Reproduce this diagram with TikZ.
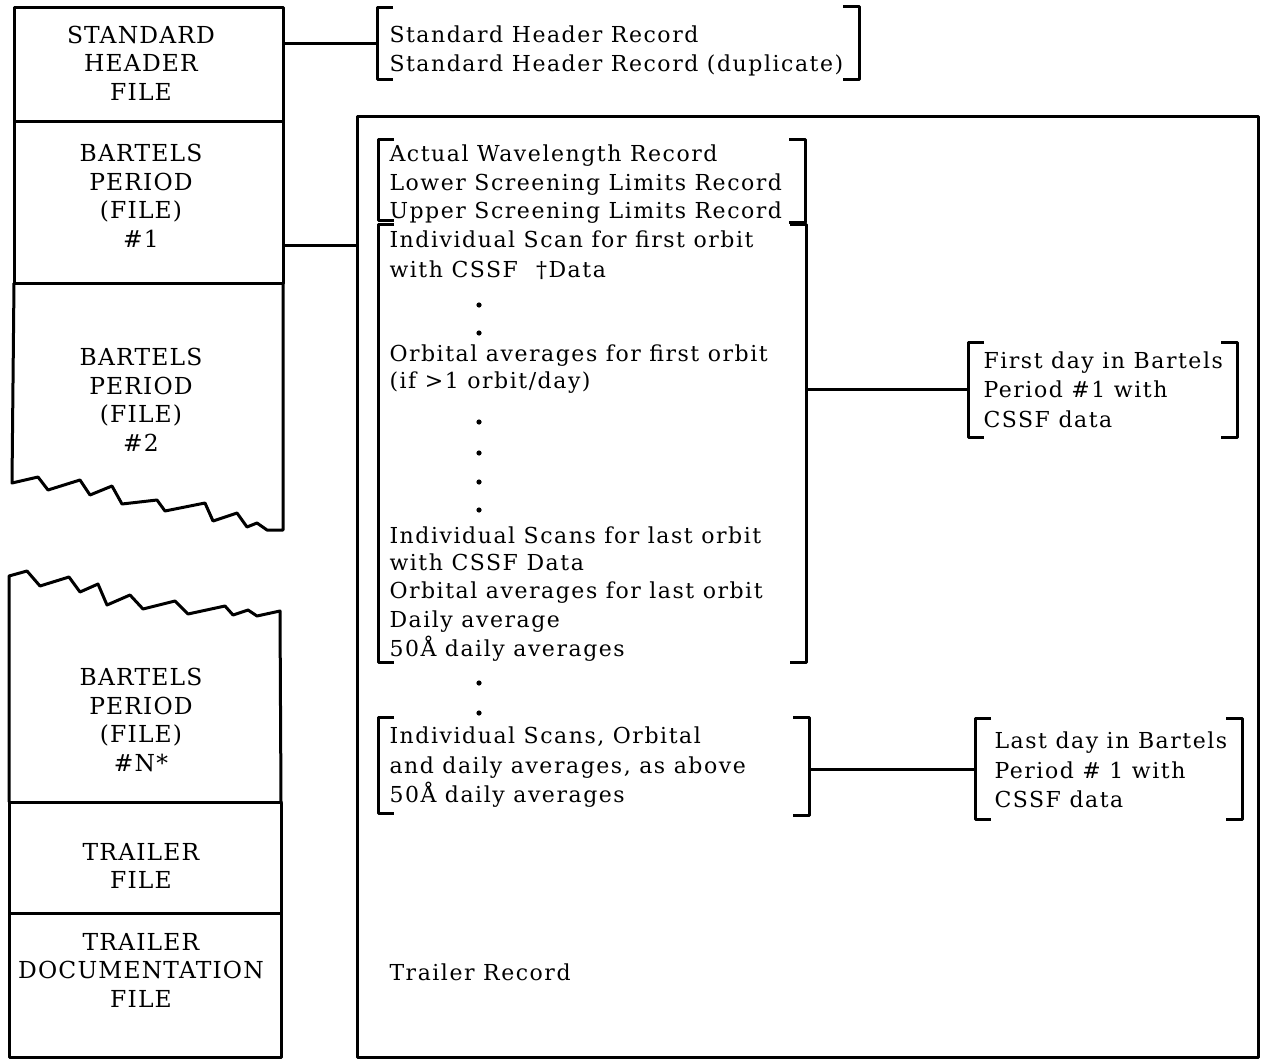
\documentclass[tikz,border=0pt]{standalone}
\usepackage{fontspec}
\usetikzlibrary{positioning}
\newfontfamily\filefamily{DejaVu Serif}[LetterSpace=5]
\newfontfamily\recfamily{DejaVu Serif}[LetterSpace=7]
\newcommand{\filefont}{\filefamily\fontsize{11.7}{14.25}\selectfont}
\newcommand{\recfont}{\recfamily\fontsize{11}{14.4}\selectfont}
\newcommand{\openbrk}[3]{\draw (#1+16,#2) -- (#1,#2) -- (#1,#3) -- (#1+16,#3);}
\newcommand{\closebrk}[3]{\draw (#1-16,#2) -- (#1,#2) -- (#1,#3) -- (#1-16,#3);}

\begin{document}
\begin{tikzpicture}[x=0.5pt,y=-0.5pt,line width=1.5pt,line join=round,
    filelabel/.style={font=\filefont,align=center,inner sep=0pt},
    recline/.style={font=\recfont,anchor=base west,inner sep=0pt},
    dotmark/.style={circle,fill,inner sep=0pt,minimum size=2.6pt}]
  \useasboundingbox (0,0) rectangle (1262,1064);
  % file column
  \draw (14,8) rectangle (283,122);
  \draw (14,122) rectangle (283,283);
  \draw (14,283) -- (12,483) -- (38,477) -- (48,490) -- (80,480) -- (90,495)
    -- (112,486) -- (122,504) -- (157,500) -- (165,511) -- (205,503) -- (213,521)
    -- (237,513) -- (247,527) -- (257,523) -- (267,530) -- (283,530) -- (283,283);
  \draw (9,802) -- (9,576) -- (27,571) -- (40,586) -- (69,577) -- (80,592)
    -- (98,584) -- (107,605) -- (130,595) -- (143,609) -- (175,601) -- (188,614)
    -- (225,606) -- (233,615) -- (248,610) -- (257,616) -- (280,611) -- (281,802);
  \draw (9,802) rectangle (281,913);
  \draw (9,913) rectangle (281,1057);
  \node[filelabel] (stdhdr) at (141,63) {STANDARD\\HEADER\\FILE};
  \node[filelabel] (bp1) at (141,196) {BARTELS\\PERIOD\\(FILE)\\\#1};
  \node[filelabel] (bp2) at (141,400) {BARTELS\\PERIOD\\(FILE)\\\#2};
  \node[filelabel] (bpn) at (141,720) {BARTELS\\PERIOD\\(FILE)\\\#N*};
  \node[filelabel] (trl) at (141,866) {TRAILER\\FILE};
  \node[filelabel] (trldoc) at (141,970) {TRAILER\\DOCUMENTATION\\FILE};

  % record side
  \draw (357,117) rectangle (1258,1057);
  \foreach \yy/\txt [count=\i] in {43/Standard Header Record,
      72/Standard Header Record (duplicate)}
    \node[recline] (shr\i) at (388,\yy) {\txt};
  \foreach \yy/\txt [count=\i] in {162/Actual Wavelength Record,
      191/Lower Screening Limits Record, 219/Upper Screening Limits Record,
      248/Individual Scan for first orbit, 277/{with CSSF\hspace{9pt}†Data},
      361/Orbital averages for first orbit, 388/{(if >1 orbit/day)},
      543/Individual Scans for last orbit, 570/with CSSF Data,
      598/Orbital averages for last orbit, 627/Daily average,
      656/50Å daily averages}
    \node[recline] (bpr\i) at (388,\yy) {\txt};
  \foreach \yy/\txt [count=\i] in {743/{Individual Scans, Orbital},
      773/{and daily averages, as above}, 802/50Å daily averages}
    \node[recline] (lastr\i) at (388,\yy) {\txt};
  \foreach \yy [count=\i] in {305,333,422,453,482,510,683,713}
    \node[dotmark] (dot\i) at (479,\yy) {};
  \foreach \yy/\txt [count=\i] in {368/First day in Bartels,
      397/Period \#1 with, 427/CSSF data}
    \node[recline] (fday\i) at (982,\yy) {\txt};
  \foreach \yy/\txt [count=\i] in {748/Last day in Bartels,
      778/Period \# 1 with, 807/CSSF data}
    \node[recline] (lday\i) at (993,\yy) {\txt};
  \node[recline] (trlrec) at (388,980) {Trailer Record};

  % brackets
  \openbrk{377}{8}{80} \closebrk{859}{7}{80}
  \openbrk{378}{140}{221} \closebrk{805}{140}{223}
  \openbrk{378}{225}{662} \closebrk{806}{225}{662}
  \openbrk{378}{717}{813} \closebrk{809}{717}{815}
  \openbrk{968}{342}{437} \closebrk{1237}{342}{437}
  \openbrk{975}{718}{819} \closebrk{1242}{718}{819}

  % connectors
  \coordinate (hdrE) at (283,44); \coordinate (brkA) at (377,44);
  \coordinate (bp1E) at (283,245); \coordinate (bigW) at (357,245);
  \coordinate (brkC) at (806,389); \coordinate (brkE) at (968,389);
  \coordinate (brkD) at (809,769); \coordinate (brkF) at (975,769);
  \draw (hdrE) -- (brkA);
  \draw (bp1E) -- (bigW);
  \draw (brkC) -- (brkE);
  \draw (brkD) -- (brkF);
\end{tikzpicture}
\end{document}
